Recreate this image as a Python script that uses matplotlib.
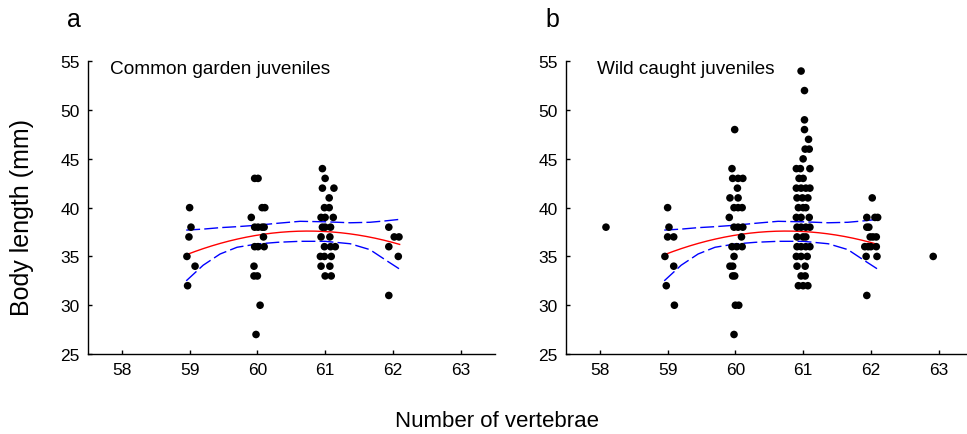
import numpy as np
import matplotlib
matplotlib.use("Agg")
import matplotlib.pyplot as plt

plt.rcParams['font.family'] = ['Liberation Sans', 'DejaVu Sans']

# ---- Panel a: common garden juveniles (vertebrae with horizontal jitter, body length) ----
a_x = [59.00, 59.02, 58.99, 58.96, 59.08, 58.97,
       59.96, 60.01, 60.07, 60.11, 59.91, 59.96, 60.01, 60.07, 60.10, 60.09,
       59.96, 60.01, 60.10, 59.95, 59.95, 60.00, 60.04, 59.98,
       60.96, 61.00, 60.96, 61.13, 61.06, 60.99, 61.06, 60.94, 61.00, 61.12,
       60.96, 61.00, 61.08, 60.94, 61.07, 60.99, 61.08, 61.15, 60.93, 60.99,
       61.09, 60.94, 61.07, 61.00, 61.09,
       61.94, 62.02, 62.09, 61.94, 62.08, 61.94]
a_y = [40, 38, 37, 35, 34, 32,
       43, 43, 40, 40, 39, 38, 38, 38, 38, 37,
       36, 36, 36, 34, 33, 33, 30, 27,
       44, 43, 42, 42, 41, 40, 40, 39, 39, 39,
       38, 38, 38, 37, 37, 36, 36, 36, 35, 35,
       35, 34, 34, 33, 33,
       38, 37, 37, 36, 35, 31]

# ---- Panel b: wild caught juveniles ----
b_x = [58.09,
       59.00, 59.02, 59.00, 59.09, 58.96, 59.09, 58.98, 59.10,
       59.99, 59.95, 59.96, 60.04, 60.11, 60.03, 59.92, 60.04, 59.98, 60.04,
       60.10, 59.91, 59.98, 60.04, 60.11, 60.09, 59.95, 60.02, 60.10, 59.98,
       59.92, 59.96, 59.96, 59.99, 60.00, 60.05, 59.98,
       60.97, 61.02, 61.02, 61.02, 61.08, 61.03, 61.09, 61.00,
       60.90, 60.96, 61.10, 60.94, 61.00,
       60.90, 60.97, 61.04, 61.10, 60.91, 60.99, 61.07,
       60.93, 61.00, 61.04, 60.90, 60.97, 61.09,
       60.91, 60.97, 61.04, 61.10, 60.91, 61.00, 61.04,
       60.91, 60.97, 61.04, 61.10, 60.90, 60.97, 61.06,
       60.91, 61.03, 60.97, 61.03, 60.93, 61.00, 61.07,
       62.02, 61.94, 62.06, 62.10, 61.94, 61.97, 61.99, 62.03, 62.08,
       61.91, 61.96, 62.00, 62.08, 61.93, 62.09, 61.94,
       62.92]
b_y = [38,
       40, 38, 37, 37, 35, 34, 32, 30,
       48, 44, 43, 43, 43, 42, 41, 41, 40, 40,
       40, 39, 38, 38, 38, 37, 36, 36, 36, 35,
       34, 34, 33, 33, 30, 30, 27,
       54, 52, 49, 48, 47, 46, 46, 45,
       44, 44, 44, 43, 43,
       42, 42, 42, 42, 41, 41, 41,
       40, 40, 40, 39, 39, 39,
       38, 38, 38, 38, 37, 37, 37,
       36, 36, 36, 36, 35, 35, 35,
       34, 34, 33, 33, 32, 32, 32,
       41, 39, 39, 39, 38, 38, 37, 37, 37,
       36, 36, 36, 36, 35, 35, 31,
       35]

# ---- Quadratic fit: y = c2*(x - xv)^2 + yv ----
fit_c2, fit_xv, fit_yv = -0.75, 60.75, 37.6
fit_range = (58.95, 62.1)

# ---- 95% confidence band ----
band_x = [58.95, 59.2, 59.45, 59.7, 60.0, 60.3, 60.63, 61.0, 61.37, 61.66, 61.9, 62.1]
band_upper = [37.7, 37.8, 37.95, 38.05, 38.2, 38.4, 38.6, 38.55, 38.45, 38.5, 38.65, 38.8]
band_lower = [32.5, 34.1, 35.25, 35.94, 36.28, 36.45, 36.55, 36.55, 36.3, 35.7, 34.6, 33.7]

xticks = [58, 59, 60, 61, 62, 63]
yticks = [25, 30, 35, 40, 45, 50, 55]

W, H = 967, 435
fig = plt.figure(figsize=(W / 100, H / 100), dpi=100)

ax_left_px = [88, 566]
ax_w_px = 406.5
top_px, bot_px = 62.3, 355
panels = [("a", "Common garden juveniles", a_x, a_y),
          ("b", "Wild caught juveniles", b_x, b_y)]

xf = np.linspace(fit_range[0], fit_range[1], 200)
yf = fit_c2 * (xf - fit_xv) ** 2 + fit_yv

for i, (lab, title, xs, ys) in enumerate(panels):
    ax = fig.add_axes([ax_left_px[i] / W, 1 - bot_px / H, ax_w_px / W, (bot_px - top_px) / H])
    ax.scatter(xs, ys, s=30, color='black', edgecolors='none', zorder=3)
    ax.plot(xf, yf, color='red', lw=1.0, zorder=2)
    ax.plot(band_x, band_upper, color='blue', lw=1.0, dashes=(10, 3), zorder=2)
    ax.plot(band_x, band_lower, color='blue', lw=1.0, dashes=(10, 3), zorder=2)
    ax.set_xlim(57.5, 63.5)
    ax.set_ylim(25, 55)
    ax.set_xticks(xticks)
    ax.set_yticks(yticks)
    ax.spines['top'].set_visible(False)
    ax.spines['right'].set_visible(False)
    for sp in ('left', 'bottom'):
        ax.spines[sp].set_linewidth(1.0)
        ax.spines[sp].set_color('black')
    ax.tick_params(direction='in', length=3, width=1, labelsize=12.5, pad=6, colors='black')
    ax.text(0.054 if i == 0 else 0.076, 0.975, title, transform=ax.transAxes,
            ha='left', va='center', fontsize=13.7)
    fig.text((ax_left_px[i] - 14) / W, 1 - 20 / H, lab, ha='center', va='center', fontsize=18)

fig.text(22 / W, 1 - 217 / H, "Body length (mm)",
         rotation=90, ha='center', va='center', fontsize=18)
fig.text(497 / W, 1 - 422 / H, "Number of vertebrae", ha='center', va='center', fontsize=16)

fig.savefig("out.png", dpi=100)
